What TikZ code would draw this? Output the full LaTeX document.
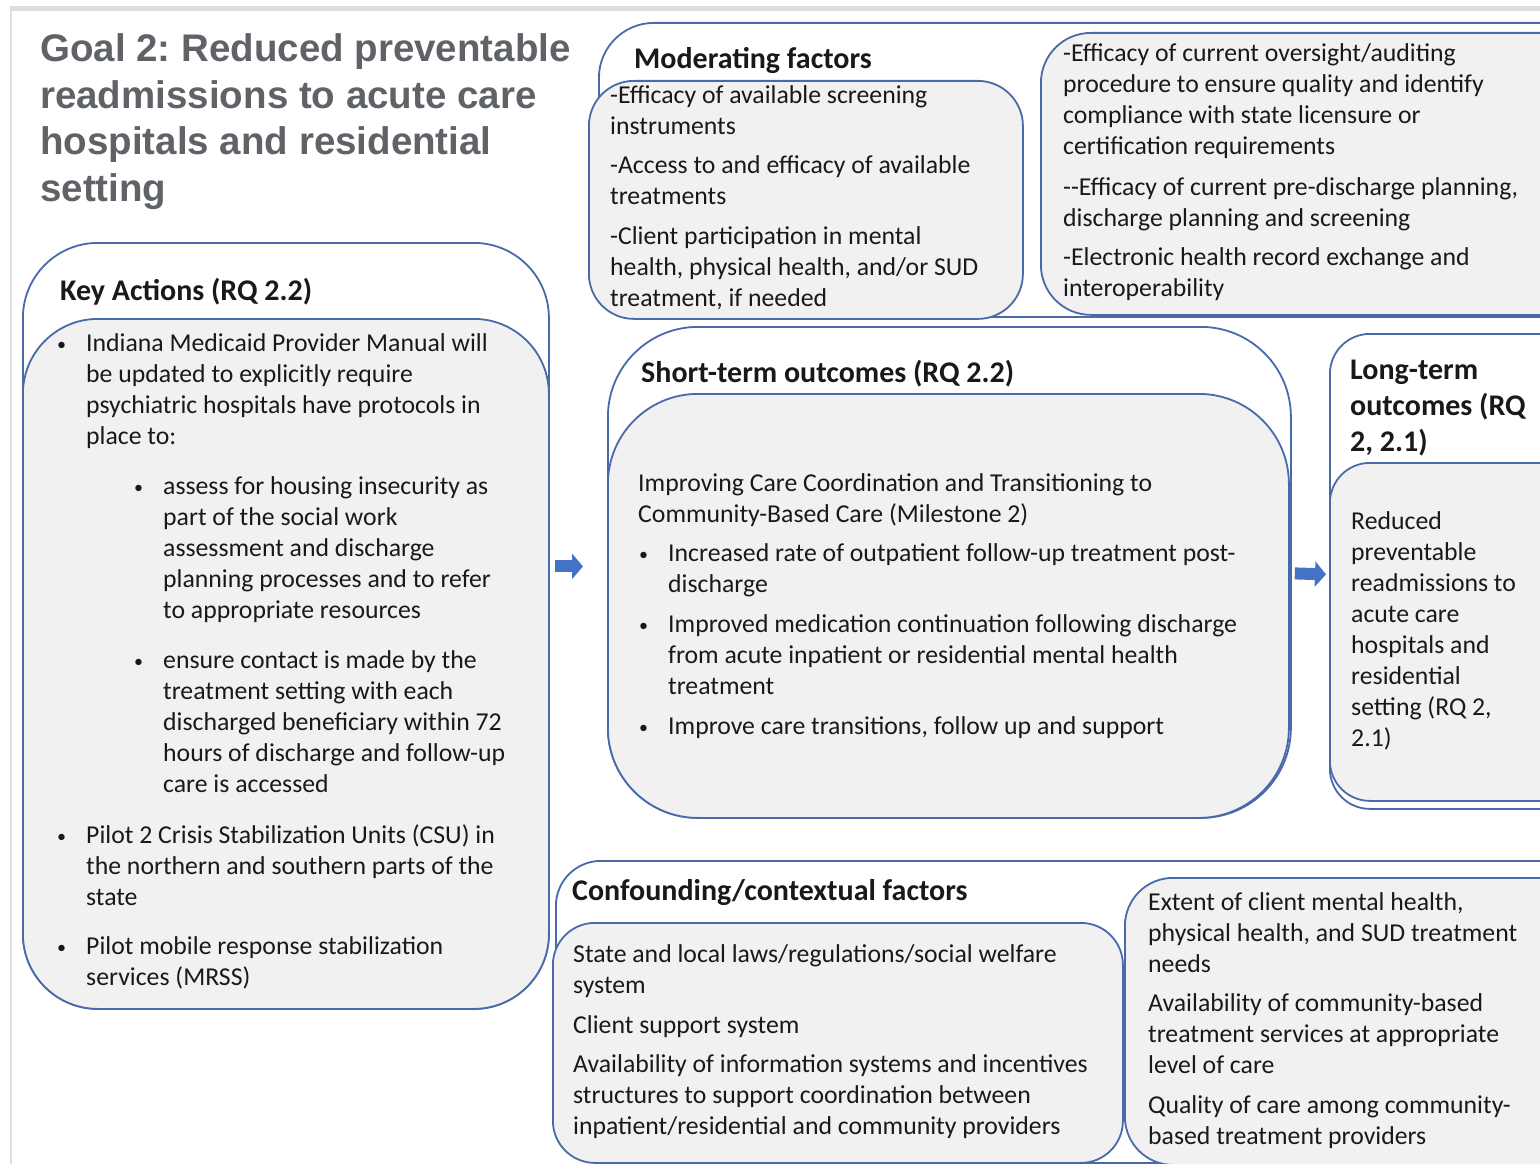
\documentclass[tikz,border=0pt]{standalone}
\usepackage{fontspec}
\setmainfont{Carlito}
\newfontfamily\titlefont{Liberation Sans}
\usetikzlibrary{arrows.meta,calc}
\frenchspacing

\definecolor{boxline}{RGB}{72,106,170}
\definecolor{boxfill}{RGB}{241,241,241}
\definecolor{arrowblue}{RGB}{68,114,196}
\definecolor{titlegray}{RGB}{95,99,104}
\definecolor{ink}{RGB}{25,25,25}
\definecolor{framegray}{RGB}{220,220,220}

% lines of one paragraph, baseline on the first line
\newcommand{\lns}[1]{\begin{tabular}[t]{@{}l@{}}#1\end{tabular}}
\newcommand{\bl}[1]{\makebox[29pt][l]{\raisebox{1pt}{\fontsize{18}{18}\selectfont\textbullet}}\lns{#1}}

\begin{document}
\begin{tikzpicture}[x=1pt,y=-1pt,
    grpbox/.style={draw=boxline,line width=1.8pt,fill=white,rounded corners=#1pt,
      anchor=north west,inner sep=0pt},
    itembox/.style={grpbox=#1,fill=boxfill},
    txt/.style={anchor=base west,inner sep=0pt,text=ink,font=\fontsize{25.75}{31}\selectfont},
    hd/.style={txt,font=\bfseries\fontsize{30}{36}\selectfont},
    flow/.style={line width=12pt,arrowblue,-{Triangle[length=11pt,width=25pt]}}]
    \useasboundingbox (0,0) rectangle (1540,1164);
    \clip (0,0) rectangle (1540,1164);

    % page frame
    \fill[framegray] (10,6) rectangle (1540,11);
    \draw[framegray,line width=1.5pt] (11,11)--(11,1164);

    % title
    \node[anchor=base west,inner sep=0pt,text=titlegray,
      font=\titlefont\bfseries\fontsize{38.5}{46.5}\selectfont] (goal) at (40,62)
      {\lns{Goal 2: Reduced preventable\\readmissions to acute care\\hospitals and residential\\setting}};

    % key actions
    \node[grpbox=75,minimum width=526pt,minimum height=766pt] (kaout) at (22,242) {};
    \node[itembox=75,minimum width=526pt,minimum height=690pt] (kain) at (22,318) {};
    \node[hd] (kahead) at (60,300) {Key Actions (RQ 2.2)};
    \node[txt] (ka1) at (57,351) {\bl{Indiana Medicaid Provider Manual will\\be updated to explicitly require\\psychiatric hospitals have protocols in\\place to:}};
    \node[txt] (ka1a) at (134,494) {\bl{assess for housing insecurity as\\part of the social work\\assessment and discharge\\planning processes and to refer\\to appropriate resources}};
    \node[txt] (ka1b) at (134,668) {\bl{ensure contact is made by the\\treatment setting with each\\discharged beneficiary within 72\\hours of discharge and follow-up\\care is accessed}};
    \node[txt] (ka2) at (57,843) {\bl{Pilot 2 Crisis Stabilization Units (CSU) in\\the northern and southern parts of the\\state}};
    \node[txt] (ka3) at (57,954) {\bl{Pilot mobile response stabilization\\services (MRSS)}};

    % moderating factors
    \node[grpbox=55,minimum width=1000pt,minimum height=294pt] (modout) at (598,22) {};
    \node[itembox=45,minimum width=434pt,minimum height=238pt] (modin1) at (588,80) {};
    \node[itembox=50,minimum width=560pt,minimum height=282pt] (modin2) at (1040,32) {};
    \node[hd] (modhead) at (634,69) {Moderating factors};
    \node[txt] (mod1) at (610,103) {\lns{-Efficacy of available screening\\instruments}};
    \node[txt] (mod2) at (610,173) {\lns{-Access to and efficacy of available\\treatments}};
    \node[txt] (mod3) at (610,244) {\lns{-Client participation in mental\\health, physical health, and/or SUD\\treatment, if needed}};
    \node[txt] (mod4) at (1063,62) {\lns{-Efficacy of current oversight/auditing\\procedure to ensure quality and identify\\compliance with state licensure or\\certification requirements}};
    \node[txt] (mod5) at (1063,195) {\lns{{-}{-}Efficacy of current pre-discharge planning,\\discharge planning and screening}};
    \node[txt] (mod6) at (1063,265) {\lns{-Electronic health record exchange and\\interoperability}};

    % short-term outcomes
    \node[grpbox=90,minimum width=683pt,minimum height=491pt] (stout) at (607,326) {};
    \node[itembox=90,minimum width=681pt,minimum height=424pt] (stin) at (607,393) {};
    \node[hd] (sthead) at (641,382) {Short-term outcomes (RQ 2.2)};
    \node[txt] (st0) at (638,491) {\lns{Improving Care Coordination and Transitioning to\\Community-Based Care (Milestone 2)}};
    \node[txt] (st1) at (639,561) {\bl{Increased rate of outpatient follow-up treatment post-\\discharge}};
    \node[txt] (st2) at (639,632) {\bl{Improved medication continuation following discharge\\from acute inpatient or residential mental health\\treatment}};
    \node[txt] (st3) at (639,734) {\bl{Improve care transitions, follow up and support}};

    % long-term outcomes
    \node[grpbox=40,minimum width=260pt,minimum height=475pt] (ltout) at (1329,333) {};
    \node[itembox=40,minimum width=260pt,minimum height=338pt] (ltin) at (1329,462) {};
    \node[hd] (lthead) at (1350,379) {\lns{Long-term\\outcomes (RQ\\2, 2.1)}};
    \node[txt] (lt1) at (1351,529) {\lns{Reduced\\preventable\\readmissions to\\acute care\\hospitals and\\residential\\setting (RQ 2,\\2.1)}};

    % confounding factors
    \node[grpbox=45,minimum width=1040pt,minimum height=302pt] (cfout) at (555,860) {};
    \node[itembox=42,minimum width=570pt,minimum height=240pt] (cfin1) at (552,922) {};
    \node[itembox=48,minimum width=470pt,minimum height=287pt] (cfin2) at (1124,877) {};
    \node[hd] (cfhead) at (572,900) {Confounding/contextual factors};
    \node[txt] (cf1) at (573,962) {\lns{State and local laws/regulations/social welfare\\system}};
    \node[txt] (cf2) at (573,1033) {Client support system};
    \node[txt] (cf3) at (573,1072) {\lns{Availability of information systems and incentives\\structures to support coordination between\\inpatient/residential and community providers}};
    \node[txt] (cf4) at (1148,910) {\lns{Extent of client mental health,\\physical health, and SUD treatment\\needs}};
    \node[txt] (cf5) at (1148,1011) {\lns{Availability of community-based\\treatment services at appropriate\\level of care}};
    \node[txt] (cf6) at (1148,1113) {\lns{Quality of care among community-\\based treatment providers}};

    % arrows between the columns
    \draw[flow] ($(kaout.east |- stout.west)+(5,-6)$) -- ($(stout.west)+(-24,-6)$);
    \draw[flow] ($(stout.east)+(3,1)$) -- ($(ltout.west)+(-3,3)$);
\end{tikzpicture}
\end{document}
